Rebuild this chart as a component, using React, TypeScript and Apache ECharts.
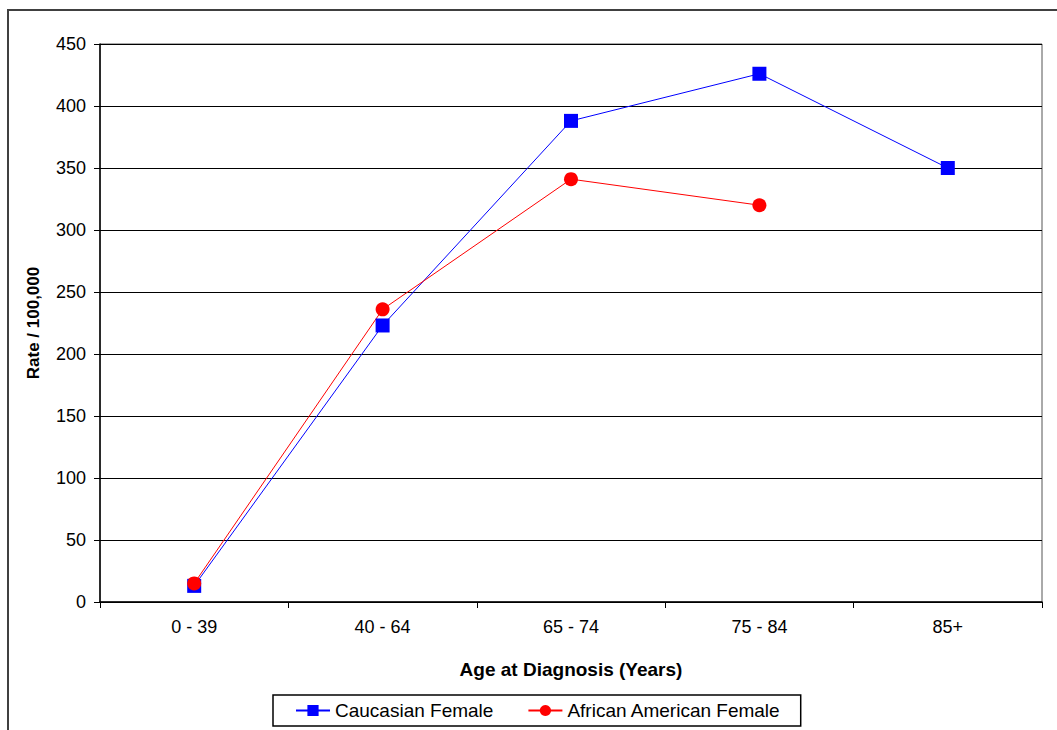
import React, { useEffect, useRef } from "react";
import * as echarts from "echarts";

const categories = ["0 - 39", "40 - 64", "65 - 74", "75 - 84", "85+"];
const caucasianFemale = [13, 223, 388, 426, 350];
const africanAmericanFemale: (number | null)[] = [15, 236, 341, 320, null];
const yMin = 0;
const yMax = 450;
const yInterval = 50;

const FONT = "'Liberation Sans', Arial, sans-serif";

export default function App() {
  const ref = useRef<HTMLDivElement>(null);
  useEffect(() => {
    if (!ref.current) return;
    const chart = echarts.init(ref.current, undefined, { renderer: "svg" });
    chart.setOption({
      animation: false,
      backgroundColor: "#ffffff",
      textStyle: { fontFamily: FONT },
      graphic: [
        {
          type: "rect",
          shape: { x: 8, y: 10, width: 1100, height: 800 },
          style: { fill: "none", stroke: "#404040", lineWidth: 2 },
          silent: true,
        },
      ],
      grid: {
        left: 100,
        top: 44,
        right: 15,
        bottom: 128,
        show: true,
        borderColor: "#555555",
        borderWidth: 1,
        backgroundColor: "transparent",
      },
      legend: {
        left: 273,
        top: 695,
        itemGap: 34,
        padding: [6, 20, 6, 22],
        borderColor: "#000000",
        borderWidth: 1.5,
        itemWidth: 34,
        itemHeight: 14,
        textStyle: { fontSize: 19, color: "#000000", fontFamily: FONT },
        data: ["Caucasian Female", "African American Female"],
      },
      xAxis: {
        type: "category",
        data: categories,
        boundaryGap: true,
        name: "Age at Diagnosis (Years)",
        nameLocation: "middle",
        nameGap: 58,
        nameTextStyle: { fontSize: 19, fontWeight: "bold", color: "#000", fontFamily: FONT },
        axisLine: { show: true, lineStyle: { color: "#000", width: 1.5 } },
        axisTick: { show: true, inside: false, length: 6, alignWithLabel: false, lineStyle: { color: "#000" } },
        axisLabel: { fontSize: 18, color: "#000", margin: 16, fontFamily: FONT },
        splitLine: { show: false },
      },
      yAxis: {
        type: "value",
        min: yMin,
        max: yMax,
        interval: yInterval,
        name: "Rate / 100,000",
        nameLocation: "middle",
        nameGap: 58,
        nameTextStyle: { fontSize: 17, fontWeight: "bold", color: "#000", fontFamily: FONT },
        axisLine: { show: true, lineStyle: { color: "#000", width: 1.5 } },
        axisTick: { show: true, inside: false, length: 6, lineStyle: { color: "#000" } },
        axisLabel: { fontSize: 18, color: "#000", margin: 14, fontFamily: FONT },
        splitLine: { show: true, lineStyle: { color: "#000", width: 1 } },
      },
      series: [
        {
          name: "Caucasian Female",
          type: "line",
          data: caucasianFemale,
          symbol: "rect",
          symbolSize: 14,
          color: "#0000FF",
          lineStyle: { width: 1, color: "#0000FF" },
          itemStyle: { color: "#0000FF" },
        },
        {
          name: "African American Female",
          type: "line",
          data: africanAmericanFemale,
          symbol: "circle",
          symbolSize: 14,
          color: "#FF0000",
          lineStyle: { width: 1, color: "#FF0000" },
          itemStyle: { color: "#FF0000" },
        },
      ],
    });
    return () => chart.dispose();
  }, []);
  return (
    <div
      ref={ref}
      style={{ position: "fixed", left: 0, top: 0, width: 1057, height: 730 }}
    />
  );
}
